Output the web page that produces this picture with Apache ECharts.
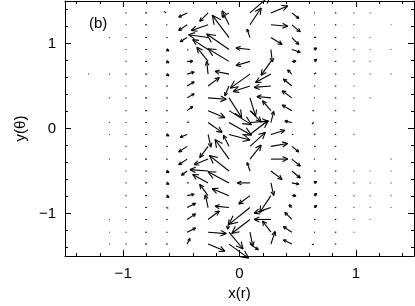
<!DOCTYPE html>
<html>
<head>
<meta charset="utf-8">
<script src="https://cdn.jsdelivr.net/npm/echarts@6.0.0/dist/echarts.min.js"></script>
<style>
  html, body { margin: 0; padding: 0; background: #fff; }
  #main { width: 415px; height: 306px; }
</style>
</head>
<body>
<div id="main"></div>
<script>
// grid positions of the arrow tails
const xs = [-1.30, -1.12, -0.98, -0.81, -0.63, -0.45, -0.27, -0.09, 0.09, 0.27, 0.45, 0.64, 0.82, 0.98, 1.12, 1.30];
const ys = [1.36, 1.22, 1.07, 0.93, 0.79, 0.64, 0.50, 0.36, 0.21, 0.07,
            -0.07, -0.21, -0.36, -0.50, -0.64, -0.79, -0.93, -1.07, -1.22, -1.36];

// velocity components, one row per y, one entry per x
const u = [
  [0, 0, 0.7, 1.2, -1.5, -6, -6, -5, 15, 12, 5, 0.6, 1, 0.6, 0.5, 0],
  [0, 0, 0.7, 1.2, 0.8, -6, -12, -5, 8, 12, 6, 0.6, 1, 0.6, 0, 0.5],
  [0, 0.5, 0.7, 1.2, 1, -5, -14, -12, -2, 8, 5, 1.5, 1, 0.6, 0.5, 0],
  [0, 0, 0.7, 1.2, 2, 0.8, -11, -16, -10, 1, 6, 2, 1, 0.6, 0.5, 0.5],
  [0, 0, 0.7, 1.2, 2, 4, -8, -15, -10, -7, 3, 2, 1, 0.6, 0.5, 0],
  [0.5, 0.5, 0.7, 1.2, 2, 5, -1, -10, -14, -11, -3, 1.5, 1, 0.6, 0.5, 0.5],
  [0, 0, 0.7, 1.2, 1.2, 5, 8, -3, -12, -12, -6, 1, 1, 0.6, 0, 0],
  [0, 0.5, 0.7, 1.2, 1, 5, 13, 9, 4, -10, -7, 0.6, 1, 0.6, 0.5, 0],
  [0, 0, 0.7, 1.2, 1, 4, 12, 16, 8, -6, -7, -1, 1, 0.6, 0, 0],
  [0, 0.5, 0.7, 1.2, 1, 1.5, 10, 16, 13, 2, -5, -1.5, 1, 0, 0, 0],
  [0, 0.5, 0.7, 1.2, 2, -5, 2, 15, 13, 10, 1, 1, 1, 0.6, 0, 0],
  [0, 0, 0.7, 1.2, 1, -6, -6, -4, 11, 12, 5, 1.2, 1, 0, 0, 0],
  [0, 0.5, 0.7, 1.2, 1, -6, -10, -10, 8, 12, 6, 0.8, 1, 0, 0, 0.5],
  [0, 0, 0.7, 1.2, 2, -4, -13, -14, -2, 8, 6, 1.5, 1, 0.6, 0.5, 0.5],
  [0, 0, 0.7, 1.2, 2, 1, -11, -15, -9, 2, 5, 2, 1, 0.6, 0.5, 0.5],
  [0, 0, 0.7, 1.2, 2, 5, -6, -12, -8, -8, 3, 2, 1, 0.6, 0.5, 0.5],
  [0, 0, 0.7, 1.2, 1.5, 6, -2, -10, -15, -12, -2, 2, 1, 0.6, 0.5, 0.5],
  [0, 0.5, 0.7, 1.2, 1, 6, 8, -1, -13, -12, -5, 1, 1, 0.6, 0.5, 0],
  [0, 0.5, 0.7, 1.2, 1, 6, 13, 10, 2, -6, -6, 0.8, 1, 0.6, 0, 0],
  [0, 0.5, 0.7, 1.2, 1, 2, 12, 14, 6, 3, -6, -1.5, 1, 0, 0, 0]
];
const v = [
  [0, 0, 0, 0, 1, -3, -6, -3, 13, 5, -4, 0, 0, 0, 0, 0],
  [0, 0, 0, 0, 0, -4, -4, 10, 12, -1, -5, 0, 0, 0, 0, 0],
  [0, 0, 0, 0, 0, -3, 2, 16, 6, -5, -5, 0.3, 0, 0, 0, 0],
  [0, 0, 0, 0, -1, -0.5, 7, 11, 1, -9, -2, 1, 0, 0, 0, 0],
  [0, 0, 0, 0, -1, 0, 10, 9, -3, -10, 0, 1.5, 0, 0, 0, 0],
  [0, 0, 0, 0, -1.2, 1.5, 9, 2, -10, -6, 3, 1, 0, 0, 0, 0],
  [0, 0, 0, 0, 0, 3, 6, -7, -4, -1, 5, 0, 0, 0, 0, 0],
  [0, 0, 0, 0, 0, 3, -1, -14, -13, 1, 5, 0, 0, 0, 0, 0],
  [0, 0, 0, 0, 0, 3, -5, -10, -8, 7, 4, 0, 0, 0, 0, 0],
  [0, 0, 0, 0, 0, 0.5, -7, -9, 1, 8, 1, -1, 0, 0, 0, 0],
  [0, 0, 0, 0, -1, -2, -9, -4, 10, 3, 0, 0.5, 0, 0, 0, 0],
  [0, 0, 0, 0, 0, -4, -8, 8, 10, 2, -4, 0, 0, 0, 0, 0],
  [0, 0, 0, 0, 0, -4, -4, 14, 10, 0, -5, 0, 0, 0, 0, 0],
  [0, 0, 0, 0, -1, -3, 1, 11, 6, -6, -5, 0, 0, 0, 0, 0],
  [0, 0, 0, 0, -1, 0, 6, 8, 0, -9, -1, 1, 0, 0, 0, 0],
  [0, 0, 0, 0, -1.2, 1, 8, 5, -6, -12, 0, 1.5, 0, 0, 0, 0],
  [0, 0, 0, 0, -0.5, 3, 9, 1, -12, -4, 2, 1.5, 0, 0, 0, 0],
  [0, 0, 0, 0, 0, 4, 6, -7, -10, 0, 5, 0, 0, 0, 0, 0],
  [0, 0, 0, 0, 0, 3, -1, -12, -10, 8, 4, 0, 0, 0, 0, 0],
  [0, 0, 0, 0, 0, 4, -5, -10, -4, 9, 3, -0.5, 0, 0, 0, 0]
];

const majorTicks = [-1, 0, 1];
const minorTicks = [-1.4, -1.2, -0.8, -0.6, -0.4, -0.2, 0.2, 0.4, 0.6, 0.8, 1.2, 1.4];

const arrowScale = 1.4;   // px per velocity unit
const font = 'Liberation Sans';

let quiver = [];
for (let i = 0; i < ys.length; i++) {
  for (let j = 0; j < xs.length; j++) {
    quiver.push([xs[j], ys[i], u[i][j], v[i][j]]);
  }
}

function fmt(val) {
  return val < 0 ? '\u2212' + Math.abs(val) : String(val);
}

function renderArrow(params, api) {
  const p = api.coord([api.value(0), api.value(1)]);
  const dx = api.value(2) * arrowScale;
  const dy = -api.value(3) * arrowScale;
  const len = Math.sqrt(dx * dx + dy * dy);
  if (len === 0) return null;
  const q = [p[0] + dx, p[1] + dy];
  const st = { stroke: '#000', lineWidth: 1.1, fill: null };
  const children = [{ type: 'line', shape: { x1: p[0], y1: p[1], x2: q[0], y2: q[1] }, style: st }];
  if (len > 3) {
    const hl = Math.max(3, len * 0.35);
    const ang = Math.atan2(dy, dx);
    const a = 0.45;
    [ang + Math.PI - a, ang + Math.PI + a].forEach(function (t) {
      children.push({
        type: 'line',
        shape: { x1: q[0], y1: q[1], x2: q[0] + hl * Math.cos(t), y2: q[1] + hl * Math.sin(t) },
        style: st
      });
    });
  }
  return { type: 'group', children: children };
}

function xAxisDef(pos, ticks, len, main) {
  return {
    type: 'value', min: -1.5, max: 1.5, position: pos,
    axisLine: { show: main, onZero: false, lineStyle: { color: '#000', width: 1 } },
    axisTick: { show: true, inside: true, length: len, customValues: ticks, lineStyle: { color: '#000', width: 1 } },
    axisLabel: (pos === 'bottom' && main)
      ? { show: true, customValues: majorTicks, formatter: fmt, color: '#000', fontSize: 15, fontFamily: font, margin: 10 }
      : { show: false },
    splitLine: { show: false },
    name: (pos === 'bottom' && main) ? 'x(r)' : '',
    nameLocation: 'middle', nameGap: 30,
    nameTextStyle: { color: '#000', fontSize: 15, fontFamily: font }
  };
}
function yAxisDef(pos, ticks, len, main) {
  return {
    type: 'value', min: -1.5, max: 1.5, position: pos,
    axisLine: { show: main, onZero: false, lineStyle: { color: '#000', width: 1 } },
    axisTick: { show: true, inside: true, length: len, customValues: ticks, lineStyle: { color: '#000', width: 1 } },
    axisLabel: (pos === 'left' && main)
      ? { show: true, customValues: majorTicks, formatter: fmt, color: '#000', fontSize: 15, fontFamily: font, margin: 9 }
      : { show: false },
    splitLine: { show: false },
    name: (pos === 'left' && main) ? 'y(\u03b8)' : '',
    nameLocation: 'middle', nameGap: 37,
    nameTextStyle: { color: '#000', fontSize: 15, fontFamily: font }
  };
}

const chart = echarts.init(document.getElementById('main'));
chart.setOption({
  animation: false,
  backgroundColor: '#fff',
  grid: { left: 65, top: 1, width: 349, height: 258 },
  xAxis: [
    xAxisDef('bottom', majorTicks, 6, true),
    xAxisDef('bottom', minorTicks, 3, false),
    xAxisDef('top', majorTicks, 6, true),
    xAxisDef('top', minorTicks, 3, false)
  ],
  yAxis: [
    yAxisDef('left', majorTicks, 6, true),
    yAxisDef('left', minorTicks, 3, false),
    yAxisDef('right', majorTicks, 6, true),
    yAxisDef('right', minorTicks, 3, false)
  ],
  graphic: [{
    type: 'text', left: 89, top: 16,
    style: { text: '(b)', font: '15px ' + font, fill: '#000' }
  }],
  series: [{
    type: 'custom',
    coordinateSystem: 'cartesian2d',
    xAxisIndex: 0, yAxisIndex: 0,
    clip: false,
    encode: { x: 0, y: 1 },
    renderItem: renderArrow,
    data: quiver
  }]
});
</script>
</body>
</html>
